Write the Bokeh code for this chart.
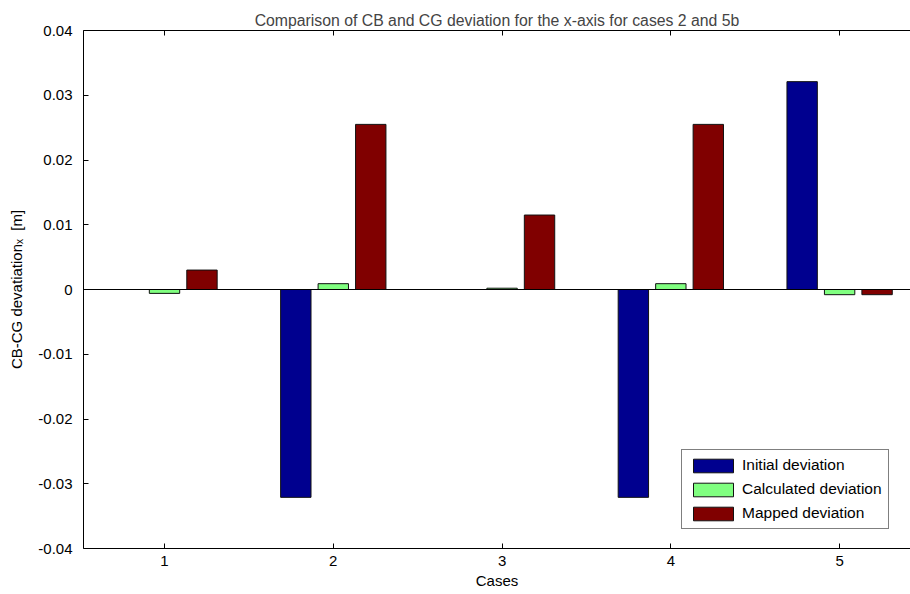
from bokeh.plotting import figure
from bokeh.models import (LinearAxis, Span, Legend, LegendItem, ColumnDataSource,
                          Range1d, FixedTicker)
from bokeh.transform import dodge
from bokeh.embed import file_html
from bokeh.resources import INLINE

# ---- data ----
cases = [1, 2, 3, 4, 5]
case_labels = ["1", "2", "3", "4", "5"]
initial_dev = [0.0, -0.0321, 0.0, -0.0321, 0.0321]
calculated_dev = [-0.0006, 0.0009, 0.0002, 0.0009, -0.0008]
mapped_dev = [0.0030, 0.0255, 0.0115, 0.0255, -0.0008]
series_names = ["Initial deviation", "Calculated deviation", "Mapped deviation"]
y_ticks = [-0.04, -0.03, -0.02, -0.01, 0.0, 0.01, 0.02, 0.03, 0.04]
y_tick_labels = ["-0.04", "-0.03", "-0.02", "-0.01", "0", "0.01", "0.02", "0.03", "0.04"]

title_text = "Comparison of CB and CG deviation for the x-axis for cases 2 and 5b"
x_label = "Cases"
y_label = "CB-CG devatiation\u2093\u00a0\u00a0[m]"

colors = ["#00008F", "#80FF80", "#800000"]
FONT = "Liberation Sans"
FS = "15px"

src = ColumnDataSource(dict(cases=cases, initial=initial_dev,
                            calculated=calculated_dev, mapped=mapped_dev))

p = figure(width=910, height=594, output_backend="svg", toolbar_location=None,
           x_range=Range1d(0.52, 5.42), y_range=Range1d(-0.04, 0.04),
           min_border_left=83, min_border_right=0, min_border_top=30,
           min_border_bottom=46, outline_line_color=None,
           background_fill_color="white", border_fill_color="white")
p.grid.visible = False

p.title.text = title_text
p.title.text_font = FONT
p.title.text_font_size = "15.8px"
p.title.text_font_style = "normal"
p.title.align = "center"
p.title.standoff = 4

offset = 0.222
bw = 0.18
fields = ["initial", "calculated", "mapped"]
renderers = []
for i, f in enumerate(fields):
    r = p.vbar(x=dodge("cases", (i - 1) * offset, range=p.x_range), top=f, bottom=0,
               width=bw, source=src, fill_color=colors[i], line_color="#111111",
               line_width=1)
    renderers.append(r)

p.add_layout(Span(location=0, dimension="width", line_color="black", line_width=1))

# axes styling
def style_axis(ax):
    ax.major_tick_in = 5
    ax.major_tick_out = 0
    ax.minor_tick_in = 0
    ax.minor_tick_out = 0
    ax.axis_line_color = "black"
    ax.major_tick_line_color = "black"
    ax.major_label_text_font = FONT
    ax.major_label_text_font_size = FS
    ax.major_label_text_color = "black"
    ax.axis_label_text_font = FONT
    ax.axis_label_text_font_size = FS
    ax.axis_label_text_font_style = "normal"
    ax.axis_label_text_color = "black"

xb = p.xaxis[0]
style_axis(xb)
xb.ticker = FixedTicker(ticks=cases)
xb.major_label_overrides = dict(zip(cases, case_labels))
xb.major_label_standoff = 7
xb.axis_label = x_label
xb.axis_label_standoff = 3

yl = p.yaxis[0]
style_axis(yl)
yl.ticker = FixedTicker(ticks=y_ticks)
yl.major_label_overrides = dict(zip(y_ticks, y_tick_labels))
yl.major_label_standoff = 11
yl.axis_label = y_label
yl.axis_label_standoff = 10

top_ax = LinearAxis(ticker=FixedTicker(ticks=cases))
style_axis(top_ax)
top_ax.major_label_overrides = {c: "" for c in cases}
top_ax.major_label_standoff = 0
p.add_layout(top_ax, "above")

legend = Legend(items=[LegendItem(label=series_names[i], renderers=[renderers[i]])
                       for i in range(3)],
                location=(598, 19))
legend.label_text_font = FONT
legend.label_text_font_size = "15.5px"
legend.label_text_color = "black"
legend.glyph_width = 50
legend.glyph_height = 17
legend.label_height = 17
legend.label_standoff = 4
legend.spacing = 6
legend.padding = 6
legend.margin = 0
legend.border_line_color = "black"
legend.border_line_width = 1
legend.background_fill_color = "white"
legend.background_fill_alpha = 1
p.add_layout(legend)

open("out.html", "w").write(file_html(p, INLINE))
